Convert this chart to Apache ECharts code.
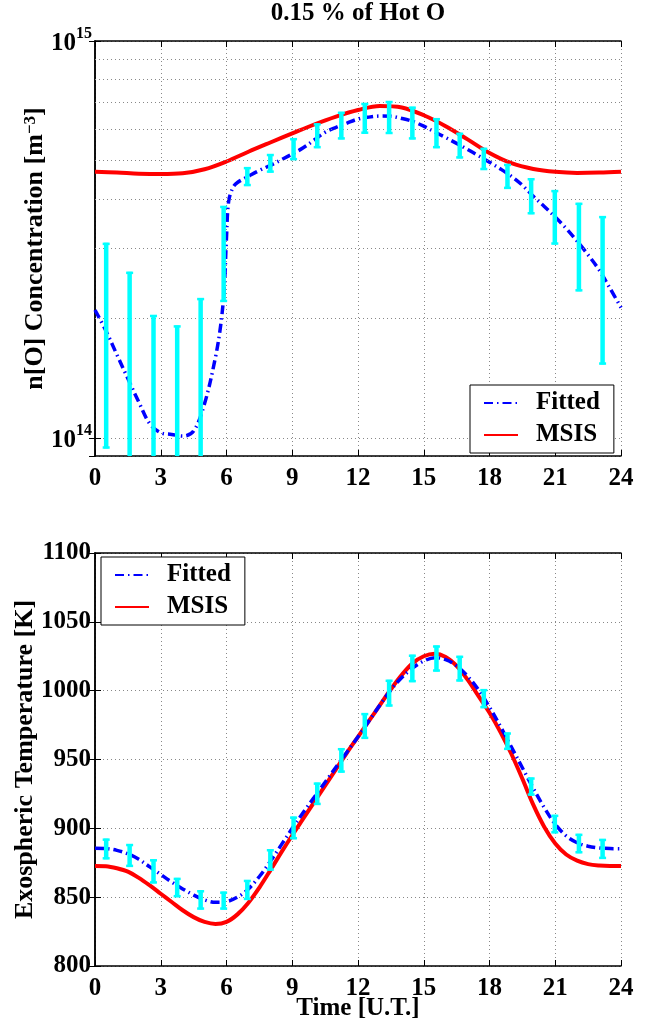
<!DOCTYPE html>
<html><head><meta charset="utf-8">
<script src="https://cdn.jsdelivr.net/npm/echarts@6/dist/echarts.min.js"></script>
<style>html,body{margin:0;padding:0;background:#fff}#c{width:661px;height:1028px}</style>
</head><body><div id="c"></div>
<script>
// ---------- DATA ----------
const chartTitle = '0.15 % of Hot O';
const xTicks = [0, 3, 6, 9, 12, 15, 18, 21, 24];

// Top panel: n[O] concentration (m^-3)
const topMsisHours = [0,1,2,3,4,5,6,7,8,9,10,11,12,13,14,15,16,17,18,19,20,21,22,23,24];
const topMsisVals = [4.68e14,4.66e14,4.63e14,4.62e14,4.64e14,4.75e14,4.97e14,5.26e14,5.55e14,5.85e14,6.16e14,6.45e14,6.70e14,6.86e14,6.80e14,6.50e14,6.10e14,5.65e14,5.22e14,4.92e14,4.76e14,4.68e14,4.65e14,4.66e14,4.685e14];

const topFitHours = [0,0.5,1,1.5,2,2.5,3,3.5,4,4.5,5,5.5,5.75,5.9,6,6.1,6.3,6.5,7,7.5,8,8.5,9,9.5,10,10.5,11,11.5,12,12.5,13,13.5,14,14.5,15,15.5,16,16.5,17,17.5,18,18.5,19,19.5,20,20.5,21,21.5,22,22.5,23,23.5,24];
const topFitVals = [2.10e14,1.86e14,1.62e14,1.41e14,1.23e14,1.085e14,1.03e14,1.02e14,1.01e14,1.04e14,1.22e14,1.60e14,1.95e14,2.40e14,3.20e14,3.95e14,4.28e14,4.40e14,4.56e14,4.72e14,4.86e14,5.02e14,5.19e14,5.38e14,5.63e14,5.89e14,6.06e14,6.21e14,6.36e14,6.43e14,6.47e14,6.46e14,6.38e14,6.27e14,6.10e14,5.90e14,5.71e14,5.52e14,5.33e14,5.14e14,4.95e14,4.76e14,4.56e14,4.33e14,4.06e14,3.83e14,3.60e14,3.37e14,3.13e14,2.89e14,2.65e14,2.38e14,2.13e14];

const errHours = [0.51,1.58,2.67,3.75,4.82,5.87,6.95,8.0,9.06,10.14,11.24,12.31,13.42,14.48,15.58,16.64,17.74,18.82,19.9,20.98,22.08,23.16];
const topErrLow  = [0.94e14,1.4e13,8e12,1.1e13,5e12,2.20e14,4.31e14,4.66e14,5.01e14,5.37e14,5.65e14,5.84e14,5.83e14,5.65e14,5.37e14,5.06e14,4.73e14,4.24e14,3.66e14,3.07e14,2.34e14,1.53e14];
const topErrHigh = [3.10e14,2.62e14,2.04e14,1.92e14,2.25e14,3.84e14,4.81e14,5.19e14,5.69e14,6.20e14,6.63e14,6.98e14,7.06e14,6.83e14,6.39e14,5.87e14,5.38e14,4.90e14,4.51e14,4.21e14,3.91e14,3.62e14];
const topMinorGrid = [2e14,3e14,4e14,5e14,6e14,7e14,8e14,9e14];

// Bottom panel: exospheric temperature (K)
const botHours = [0,0.5,1,1.5,2,2.5,3,3.5,4,4.5,5,5.5,6,6.5,7,7.5,8,8.5,9,9.5,10,10.5,11,11.5,12,12.5,13,13.5,14,14.5,15,15.5,16,16.5,17,17.5,18,18.5,19,19.5,20,20.5,21,21.5,22,22.5,23,23.5,24];
const botFitVals = [885.5,885.3,884,881.5,877.5,872,866.5,861,856,851.5,848,846.3,846.8,850,856,865,876,888,900,911.5,922.5,933.5,944.5,955.5,966.5,978,989.5,1000.5,1009.5,1016.5,1021.5,1024,1022.5,1018,1010.5,1000.5,988,974,959,944,929,915,903,894.5,889.5,887,885.8,885.3,885.2];
const botMsisVals = [872.7,872.5,871,868.5,864,858.5,852.5,846.5,840.5,835.5,832,830.5,832,837.5,846,857,869.5,882.5,895,907,919,931,943,955,966.5,978,989.5,1001,1011.5,1020,1025,1026.8,1024.5,1018,1008,996,984,970,954,936,917,901,889,881,876.5,874,873,872.7,872.7];
const botErrLow  = [877.5,872,860,850,841,841,848,869.3,892.1,917,940.5,965,988.5,1006.2,1013.9,1006.7,987.3,957,923.8,896.4,881.9,877.8];
const botErrHigh = [892.5,888.6,877.5,864,855,854,862.5,884.8,908.5,933.2,958.2,983.7,1007.9,1026.1,1032.8,1025.3,1001.1,969.6,936.9,909.8,896,892.3];

// ---------- CHART ----------
const FONT = '"Liberation Serif", "Times New Roman", serif';
const pairs = (xs, ys) => xs.map((x, i) => [x, ys[i]]);
const triples = (xs, lo, hi) => xs.map((x, i) => [x, lo[i], hi[i]]);

function errRender(params, api) {
  const x = api.value(0), lo = api.value(1), hi = api.value(2);
  const pHi = api.coord([x, hi]), pLo = api.coord([x, lo]);
  const cs = params.coordSys;
  const yTop = Math.max(pHi[1], cs.y), yBot = Math.min(pLo[1], cs.y + cs.height);
  const st = { stroke: '#00ffff', lineWidth: 4.5 };
  const ch = [{ type: 'line', shape: { x1: pHi[0], y1: yTop, x2: pHi[0], y2: yBot }, style: st }];
  const cap = { stroke: '#00ffff', lineWidth: 2.5 };
  if (pHi[1] >= cs.y) ch.push({ type: 'line', shape: { x1: pHi[0] - 3.5, y1: yTop + 1, x2: pHi[0] + 3.5, y2: yTop + 1 }, style: cap });
  if (pLo[1] <= cs.y + cs.height) ch.push({ type: 'line', shape: { x1: pHi[0] - 3.5, y1: yBot - 1, x2: pHi[0] + 3.5, y2: yBot - 1 }, style: cap });
  return { type: 'group', children: ch };
}

const axisLine = { show: true, lineStyle: { color: '#000', width: 1.5 } };
const gridLine = { show: true, lineStyle: { color: '#888', type: [1, 3], width: 1 } };
const lbl = { fontFamily: FONT, fontSize: 25, fontWeight: 'bold', color: '#000' };
const tick = { show: true, inside: true, length: 6, lineStyle: { color: '#000' } };

function xAx(gi, pos, showLabel, name) {
  return {
    type: 'value', gridIndex: gi, position: pos, min: 0, max: 24, interval: 3,
    axisLine: axisLine, axisTick: tick,
    axisLabel: showLabel ? Object.assign({ margin: 10, formatter: v => String(v) }, lbl) : { show: false },
    splitLine: showLabel ? gridLine : { show: false },
    name: name || '', nameLocation: 'middle', nameGap: 30, nameMoveOverlap: false,
    nameTextStyle: { fontFamily: FONT, fontSize: 25, fontWeight: 'bold', color: '#000' }
  };
}

const legendBase = {
  data: ['Fitted', 'MSIS'], orient: 'vertical', itemWidth: 34, itemHeight: 14, itemGap: 6,
  padding: [5, 14, 5, 13], borderColor: '#000', borderWidth: 1, backgroundColor: '#fff',
  itemStyle: { opacity: 0 },
  textStyle: { fontFamily: FONT, fontSize: 25, fontWeight: 'bold', color: '#000', lineHeight: 26, padding: [0, 0, 0, 13] }
};

const lineCommon = { type: 'line', symbol: 'none', smooth: 0.35 };

const option = {
  animation: false,
  backgroundColor: '#fff',
  graphic: [{ type: 'text', x: 358, y: 1, style: { text: chartTitle, font: 'bold 25px "Liberation Serif"', fill: '#000', textAlign: 'center' } }],
  legend: [
    Object.assign({ left: 470, top: 385 }, legendBase),
    Object.assign({ left: 101, top: 557 }, legendBase)
  ],
  grid: [
    { left: 95, right: 40, top: 41, height: 415, containLabel: false, outerBoundsMode: 'none' },
    { left: 95, right: 40, top: 553, height: 413, containLabel: false, outerBoundsMode: 'none' }
  ],
  xAxis: [xAx(0, 'bottom', true), xAx(0, 'top', false), xAx(1, 'bottom', true, 'Time [U.T.]'), xAx(1, 'top', false)],
  yAxis: [
    { type: 'log', logBase: 10, gridIndex: 0, position: 'left', min: 9e13, max: 1e15,
      axisLine: axisLine, axisTick: tick, splitLine: gridLine,
      axisLabel: { showMinLabel: false, margin: 3, formatter: v => '{b|10}{s|' + Math.round(Math.log10(v)) + '}',
        rich: { b: { fontFamily: FONT, fontSize: 25, fontWeight: 'bold', color: '#000', lineHeight: 30, verticalAlign: 'bottom' },
                s: { fontFamily: FONT, fontSize: 16, fontWeight: 'bold', color: '#000', lineHeight: 16, verticalAlign: 'top' } } },
      name: 'n[O] Concentration [m{s|−3}]', nameLocation: 'middle', nameGap: 47, nameRotate: 90, nameMoveOverlap: false,
      nameTextStyle: { fontFamily: FONT, fontSize: 26, fontWeight: 'bold', color: '#000',
        rich: { s: { fontFamily: FONT, fontSize: 17, fontWeight: 'bold', color: '#000', verticalAlign: 'top', lineHeight: 17 } } } },
    { type: 'log', logBase: 10, gridIndex: 0, position: 'right', min: 9e13, max: 1e15,
      axisLine: axisLine, axisTick: tick, splitLine: { show: false }, axisLabel: { show: false } },
    { type: 'value', gridIndex: 1, position: 'left', min: 800, max: 1100, interval: 50,
      axisLine: axisLine, axisTick: tick, splitLine: gridLine,
      axisLabel: Object.assign({ margin: 4, formatter: v => String(v) }, lbl),
      name: 'Exospheric Temperature [K]', nameLocation: 'middle', nameGap: 57, nameRotate: 90, nameMoveOverlap: false,
      nameTextStyle: { fontFamily: FONT, fontSize: 26, fontWeight: 'bold', color: '#000' } },
    { type: 'value', gridIndex: 1, position: 'right', min: 800, max: 1100, interval: 50,
      axisLine: axisLine, axisTick: tick, splitLine: { show: false }, axisLabel: { show: false } }
  ],
  series: [
    { name: 'minorgrid', type: 'line', xAxisIndex: 0, yAxisIndex: 0, z: 1, symbol: 'none', silent: true,
      data: [[0, 1e14]], lineStyle: { opacity: 0 },
      markLine: { silent: true, symbol: ['none', 'none'], label: { show: false }, animation: false,
        lineStyle: { color: '#888', type: [1, 3], width: 1 }, emphasis: { disabled: true },
        data: topMinorGrid.map(v => ({ yAxis: v })) } },
    Object.assign({ name: 'MSIS', xAxisIndex: 0, yAxisIndex: 0,
      data: pairs(topMsisHours, topMsisVals), color: '#ff0000', lineStyle: { color: '#ff0000', width: 4 } }, lineCommon),
    Object.assign({ name: 'Fitted', xAxisIndex: 0, yAxisIndex: 0,
      data: pairs(topFitHours, topFitVals), color: '#0000ff', lineStyle: { color: '#0000ff', width: 3.5, type: [9, 4, 1.5, 4] } }, lineCommon),
    { name: 'err1', type: 'custom', xAxisIndex: 0, yAxisIndex: 0, renderItem: errRender, z: 5,
      encode: { x: 0, y: [1, 2] }, data: triples(errHours, topErrLow, topErrHigh) },
    Object.assign({ name: 'MSIS', xAxisIndex: 2, yAxisIndex: 2,
      data: pairs(botHours, botMsisVals), color: '#ff0000', lineStyle: { color: '#ff0000', width: 4 } }, lineCommon),
    Object.assign({ name: 'Fitted', xAxisIndex: 2, yAxisIndex: 2,
      data: pairs(botHours, botFitVals), color: '#0000ff', lineStyle: { color: '#0000ff', width: 3.5, type: [9, 4, 1.5, 4] } }, lineCommon),
    { name: 'err2', type: 'custom', xAxisIndex: 2, yAxisIndex: 2, renderItem: errRender, z: 5,
      encode: { x: 0, y: [1, 2] }, data: triples(errHours, botErrLow, botErrHigh) }
  ]
};
echarts.init(document.getElementById('c'), null, { renderer: 'canvas' }).setOption(option);
</script>
</body></html>
